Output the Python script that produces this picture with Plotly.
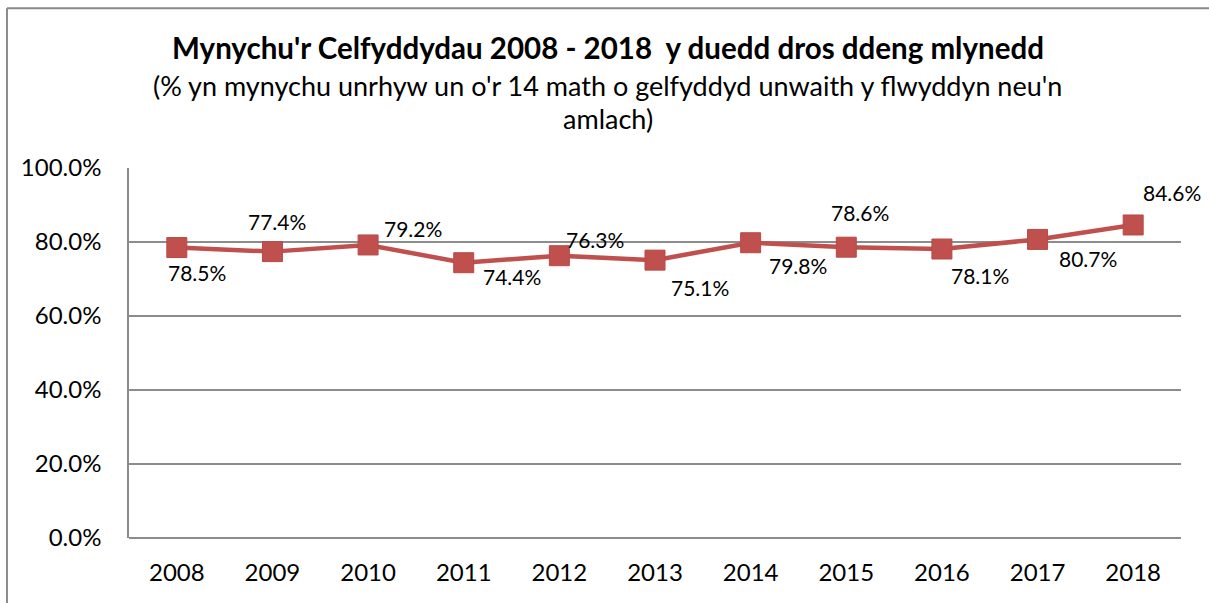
import plotly.graph_objects as go

years = ["2008", "2009", "2010", "2011", "2012", "2013", "2014", "2015", "2016", "2017", "2018"]
values = [78.5, 77.4, 79.2, 74.4, 76.3, 75.1, 79.8, 78.6, 78.1, 80.7, 84.6]
label_dx = [20, 5, 45, 48, 36, 45, 47, 14, 38, 50, 39]
label_dy = [-25, 30, 16, -14, 16, -27, -23, 35, -26, -19, 32]

FONT = "Lato"
RED = "#C0504D"
GRID = "#8C8C8C"

fig = go.Figure()
fig.add_trace(go.Scatter(
    x=years, y=values, mode="lines+markers",
    line=dict(color=RED, width=4.5),
    marker=dict(symbol="square", size=20, color=RED, line=dict(color="#B84A47", width=1)),
    hoverinfo="skip", showlegend=False,
))

for i, (v, dx, dy) in enumerate(zip(values, label_dx, label_dy)):
    fig.add_annotation(x=i, y=v, xref="x", yref="y", text=f"{v:.1f}%",
                       showarrow=False, xshift=dx, yshift=dy,
                       font=dict(family=FONT, size=21, color="#000000"))

fig.add_annotation(xref="paper", yref="paper", x=0.455, y=1.0, yshift=121, yanchor="middle",
                   text="<b>Mynychu'r Celfyddydau 2008 - 2018  y duedd dros ddeng mlynedd</b>",
                   showarrow=False, font=dict(family=FONT, size=29.5, color="#000000"))
fig.add_annotation(xref="paper", yref="paper", x=0.455, y=1.0, yshift=83, yanchor="middle",
                   text="(% yn mynychu unrhyw un o'r 14 math o gelfyddyd unwaith y flwyddyn neu'n",
                   showarrow=False, font=dict(family=FONT, size=27, color="#000000"))
fig.add_annotation(xref="paper", yref="paper", x=0.455, y=1.0, yshift=50, yanchor="middle",
                   text="amlach)",
                   showarrow=False, font=dict(family=FONT, size=27, color="#000000"))

# chart frame (left and top edges)
FX = -0.116   # (7 - 129) / 1052
FY = 1.432    # (538 - 4) / 370 approx
fig.add_shape(type="line", xref="paper", yref="paper", x0=FX, x1=FX, y0=-0.3, y1=FY,
              line=dict(color="#8A8A8A", width=2))
fig.add_shape(type="line", xref="paper", yref="paper", x0=FX, x1=1.1, y0=FY, y1=FY,
              line=dict(color="#8A8A8A", width=2))

fig.update_layout(
    width=1209, height=603,
    margin=dict(l=129, r=28, t=168, b=65),
    paper_bgcolor="white", plot_bgcolor="white",
    font=dict(family=FONT, size=24, color="#000000"),
    xaxis=dict(type="category", range=[-0.5, 10.5], showgrid=False,
               showline=False, ticks="", ticklabelstandoff=18,
               tickfont=dict(family=FONT, size=24)),
    yaxis=dict(range=[0, 100], tickvals=[0, 20, 40, 60, 80, 100],
               ticktext=["0.0%", "20.0%", "40.0%", "60.0%", "80.0%", "100.0%"],
               showgrid=True, gridcolor=GRID, gridwidth=1.5,
               showline=True, linecolor=GRID, linewidth=1.5,
               zeroline=True, zerolinecolor=GRID, zerolinewidth=1.5,
               ticks="", ticklabelstandoff=21,
               tickfont=dict(family=FONT, size=24)),
)

fig.write_html("out.html", config={"displayModeBar": False},
               post_script="document.body.style.margin='0';")
